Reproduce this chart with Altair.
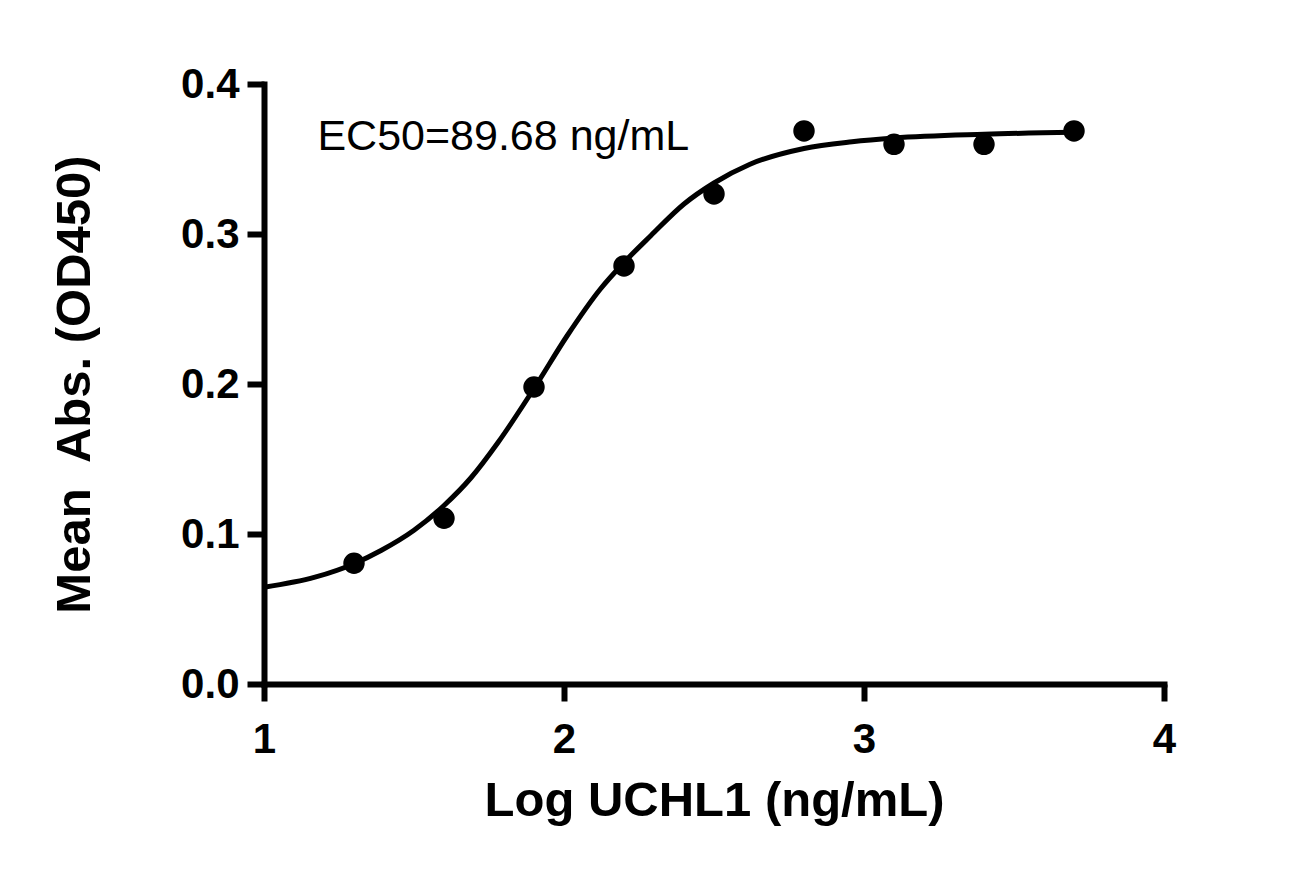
import altair as alt
import pandas as pd

# measured points (log concentration, mean absorbance)
dose_log = [1.3, 1.6, 1.9, 2.2, 2.5, 2.8, 3.1, 3.4, 3.7]
mean_abs = [0.0805, 0.1105, 0.198, 0.2787, 0.3267, 0.3687, 0.3598, 0.3598, 0.3687]

# fitted curve
fit_log = [1.00, 1.17, 1.30, 1.39, 1.50, 1.60, 1.69, 1.78, 1.90, 2.01, 2.12,
           2.20, 2.29, 2.40, 2.50, 2.62, 2.80, 2.96, 3.10, 3.40, 3.70]
fit_abs = [0.0645, 0.0712, 0.0802, 0.0890, 0.1025, 0.1190, 0.1375, 0.1610, 0.1970,
           0.2320, 0.2630, 0.2810, 0.2990, 0.3200, 0.3340, 0.3465, 0.3570, 0.3615,
           0.3640, 0.3665, 0.3678]

x_ticks = [1, 2, 3, 4]
y_ticks = [0.0, 0.1, 0.2, 0.3, 0.4]

annot_text = ["EC50=89.68 ng/mL"]
annot_x = [1.178]
annot_y = [0.356]

pts = pd.DataFrame({"logc": dose_log, "od": mean_abs})
fit = pd.DataFrame({"logc": fit_log, "od": fit_abs})
ann = pd.DataFrame({"logc": annot_x, "od": annot_y, "t": annot_text})

FONT = "Liberation Sans, Arial, Helvetica, sans-serif"

xscale = alt.Scale(domain=[1, 4], nice=False, zero=False)
yscale = alt.Scale(domain=[0, 0.4], nice=False, zero=False)

xaxis = alt.Axis(
    values=x_ticks, format="d", title="Log UCHL1 (ng/mL)", grid=False,
    labelFlush=False, labelOverlap=False, labelBaseline="alphabetic",
    labelPadding=51, titleBaseline="alphabetic", titleY=131,
)
yaxis = alt.Axis(
    values=y_ticks, format=".1f", title="Mean\u00a0 Abs. (OD450)", grid=False,
    labelFlush=False, labelOverlap=False, labelBaseline="middle",
    labelPadding=8, titleBaseline="alphabetic", titleX=-175, titleAngle=-90,
)

curve = alt.Chart(fit).mark_line(
    color="black", strokeWidth=5, interpolate="monotone"
).encode(
    x=alt.X("logc:Q", scale=xscale, axis=xaxis),
    y=alt.Y("od:Q", scale=yscale, axis=yaxis),
)

dots = alt.Chart(pts).mark_circle(size=460, color="black", opacity=1).encode(
    x=alt.X("logc:Q", scale=xscale),
    y=alt.Y("od:Q", scale=yscale),
)

label = alt.Chart(ann).mark_text(
    align="left", baseline="alphabetic", font=FONT, fontSize=43, color="black"
).encode(
    x=alt.X("logc:Q", scale=xscale),
    y=alt.Y("od:Q", scale=yscale),
    text="t:N",
)

chart = alt.layer(curve, dots, label).properties(
    width=900, height=600,
    autosize="none",
    padding={"left": 256, "top": 76, "right": 130, "bottom": 178},
    background="white",
).configure_view(stroke=None).configure_axis(
    domainColor="black", domainWidth=6, domainCap="square",
    tickColor="black", tickWidth=6, tickSize=17,
    labelFont=FONT, labelFontSize=42, labelFontWeight="bold", labelColor="black",
    titleFont=FONT, titleFontSize=49, titleFontWeight="bold", titleColor="black",
)

chart.save("out.html", embed_options={"renderer": "svg", "actions": False})
